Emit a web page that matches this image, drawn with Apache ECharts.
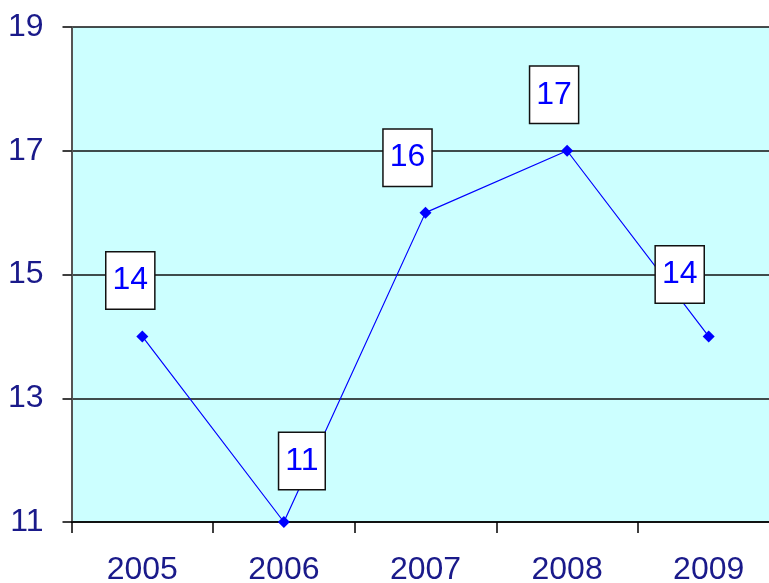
<!DOCTYPE html>
<html>
<head>
<meta charset="utf-8">
<script src="https://cdn.jsdelivr.net/npm/echarts@6/dist/echarts.min.js"></script>
<style>
  html, body { margin: 0; padding: 0; background: #fff; }
  #main { width: 769px; height: 583px; }
</style>
</head>
<body>
<div id="main"></div>
<script>
var years = ['2005', '2006', '2007', '2008', '2009'];
var values = [14, 11, 16, 17, 14];
var yTicks = [11, 13, 15, 17, 19];
// where each value box sits relative to its point
var labelShift = [[-12, -56], [18, -61], [-18, -55], [-13, -56], [-29, -62]];

var myChart = echarts.init(document.getElementById('main'));

var seriesData = values.map(function (v, i) {
    return { value: v, label: { offset: labelShift[i] } };
});

var option = {
    animation: false,
    grid: {
        left: 71.5,
        top: 27,
        width: 708,
        bottom: 61,
        backgroundColor: '#CCFFFF',
        show: true,
        borderWidth: 0,
        outerBoundsMode: 'none',
        containLabel: false
    },
    xAxis: {
        type: 'category',
        data: years,
        boundaryGap: true,
        axisLine: { lineStyle: { color: '#000', width: 1.5 } },
        axisTick: { show: true, length: 11, lineStyle: { color: '#000', width: 1.5 } },
        axisLabel: {
            color: '#1a1a8a',
            fontFamily: 'Liberation Sans, Arial, sans-serif',
            fontSize: 32,
            margin: 32
        },
        splitLine: { show: false }
    },
    yAxis: {
        type: 'value',
        min: yTicks[0],
        max: yTicks[yTicks.length - 1],
        interval: 2,
        axisLine: { show: true, lineStyle: { color: '#555', width: 2 } },
        axisTick: { show: true, length: 9, lineStyle: { color: '#000', width: 1.5 } },
        axisLabel: {
            color: '#1a1a8a',
            fontFamily: 'Liberation Sans, Arial, sans-serif',
            fontSize: 32,
            margin: 28
        },
        splitLine: { show: true, lineStyle: { color: '#111', width: 1.5 } }
    },
    series: [{
        type: 'line',
        data: seriesData,
        symbol: 'diamond',
        symbolSize: 12,
        itemStyle: { color: '#0000FF' },
        lineStyle: { color: '#0000FF', width: 1.2 },
        label: {
            show: true,
            position: 'inside',
            color: '#0000FF',
            fontFamily: 'Liberation Sans, Arial, sans-serif',
            fontSize: 32,
            lineHeight: 32,
            backgroundColor: '#fff',
            borderColor: '#111',
            borderWidth: 1.5,
            padding: [13, 6, 11, 6],
            align: 'center',
            verticalAlign: 'middle'
        },
        z: 3
    }]
};

myChart.setOption(option);
</script>
</body>
</html>
